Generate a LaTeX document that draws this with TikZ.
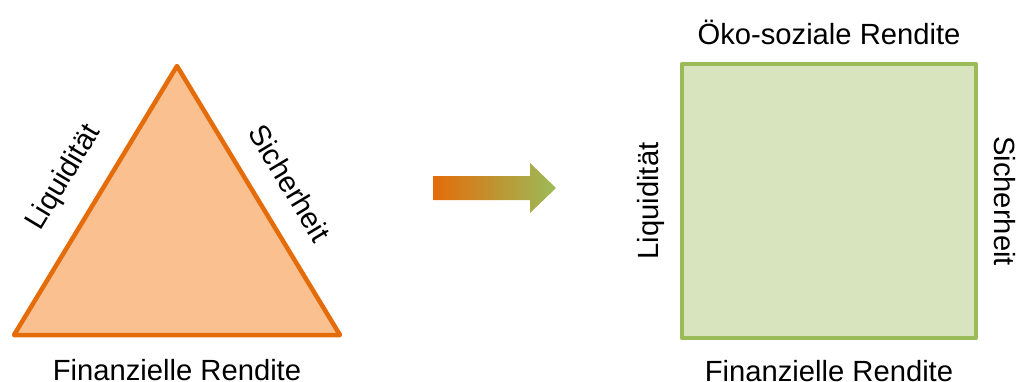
\documentclass[tikz,border=0pt]{standalone}
\usepackage{fontspec}
\setmainfont{Liberation Sans}
\usetikzlibrary{shapes.arrows}
\definecolor{orline}{HTML}{E46C0A}
\definecolor{orfill}{HTML}{FAC090}
\definecolor{grline}{HTML}{9BBB59}
\definecolor{grfill}{HTML}{D7E4BD}
\tikzset{
  lbl/.style={font=\fontsize{29.2}{33}\selectfont, inner sep=0pt, text=black},
}
\begin{document}
\begin{tikzpicture}[x=1pt,y=-1pt]
\useasboundingbox (0,0) rectangle (1019,381);
% triangle
\coordinate (apex) at (177,66);
\coordinate (bl) at (14,335);
\coordinate (br) at (340,335);
\filldraw[fill=orfill, draw=orline, line width=4.5pt, line join=round] (apex) -- (bl) -- (br) -- cycle;
\node[lbl, rotate=59] (liq1) at (64,178) {Liquidität};
\node[lbl, rotate=-59] (sich1) at (290,183) {Sicherheit};
\node[lbl] (fin1) at (177,370) {Finanzielle Rendite};
% arrow
\shade[left color=orline, right color=grline, shading angle=90]
  (433,176) -- (530,176) -- (530,163) -- (556,188) -- (530,213) -- (530,200) -- (433,200) -- cycle;
% square
\filldraw[fill=grfill, draw=grline, line width=4.5pt, line join=round] (682,64) rectangle (976,338);
\node[lbl] (oeko) at (829,32) {Öko-soziale Rendite};
\node[lbl, rotate=90] (liq2) at (651,201) {Liquidität};
\node[lbl, rotate=-90] (sich2) at (1005,201) {Sicherheit};
\node[lbl] (fin2) at (829,371) {Finanzielle Rendite};
\end{tikzpicture}
\end{document}
